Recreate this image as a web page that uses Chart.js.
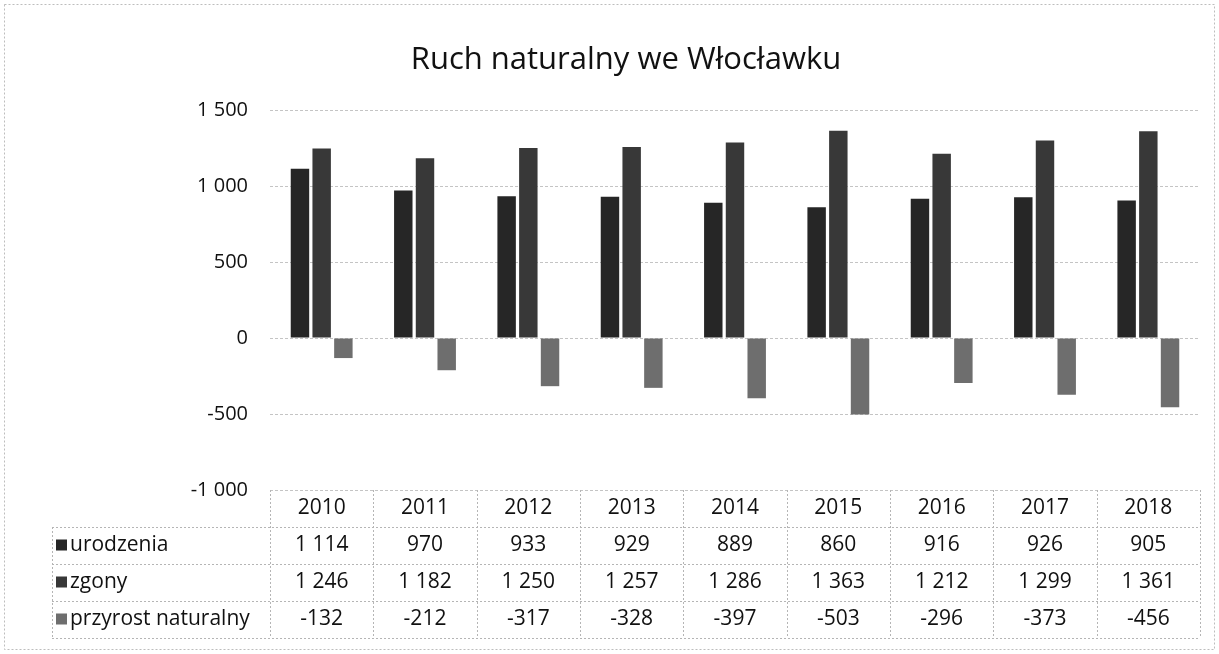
<!DOCTYPE html>
<html>
<head>
<meta charset="utf-8">
<script src="https://cdn.jsdelivr.net/npm/chart.js@4/dist/chart.umd.min.js"></script>
<style>
  html, body { margin: 0; padding: 0; background: #fff; }
  #wrap { width: 1219px; height: 654px; }
</style>
</head>
<body>
<div id="wrap"><canvas id="chart" width="1219" height="654"></canvas></div>
<script>
// Data
const years = ['2010', '2011', '2012', '2013', '2014', '2015', '2016', '2017', '2018'];
const urodzenia = [1114, 970, 933, 929, 889, 860, 916, 926, 905];
const zgony = [1246, 1182, 1250, 1257, 1286, 1363, 1212, 1299, 1361];
const przyrost = [-132, -212, -317, -328, -397, -503, -296, -373, -456];
const seriesNames = ['urodzenia', 'zgony', 'przyrost naturalny'];
const seriesColors = ['#262626', '#383838', '#6e6e6e'];
const yTicks = [-1000, -500, 0, 500, 1000, 1500];

const FONT = '"Open Sans", "Noto Sans", sans-serif';

function fmt(v) {
    const s = Math.abs(v).toString();
    const out = s.length > 3 ? s.slice(0, s.length - 3) + ' ' + s.slice(-3) : s;
    return (v < 0 ? '-' : '') + out;
}

// draws title, outer frame and the data table under the plot
const extrasPlugin = {
    id: 'extras',
    afterDraw(chart) {
        const ctx = chart.ctx;
        const area = chart.chartArea;
        const x = chart.scales.x;
        const W = chart.width, H = chart.height;
        ctx.save();

        // outer frame
        ctx.strokeStyle = '#bdbdbd';
        ctx.lineWidth = 1;
        ctx.setLineDash([2, 2]);
        ctx.strokeRect(4.5, 4.5, W - 9, H - 9);

        // title
        ctx.setLineDash([]);
        ctx.fillStyle = '#111';
        ctx.font = '31px ' + FONT;
        ctx.textAlign = 'center';
        ctx.textBaseline = 'middle';
        ctx.fillText('Ruch naturalny we Włocławku', 626, 60);

        // data table
        const colW = (area.right - area.left) / years.length;
        const top = area.bottom;
        const rowH = 37;
        const legLeft = 52;
        ctx.strokeStyle = '#b5b5b5';
        ctx.setLineDash([2, 2]);
        ctx.beginPath();
        // vertical lines
        for (let i = 0; i <= years.length; i++) {
            const lx = Math.round(area.left + i * colW) + 0.5;
            ctx.moveTo(lx, top);
            ctx.lineTo(lx, top + rowH * 4);
        }
        ctx.moveTo(legLeft + 0.5, top + rowH);
        ctx.lineTo(legLeft + 0.5, top + rowH * 4);
        // horizontal lines
        for (let r = 1; r <= 4; r++) {
            const ly = Math.round(top + r * rowH) + 0.5;
            ctx.moveTo(legLeft, ly);
            ctx.lineTo(area.right, ly);
        }
        ctx.stroke();
        ctx.setLineDash([]);

        ctx.font = '21px ' + FONT;
        ctx.fillStyle = '#111';
        ctx.textAlign = 'center';
        years.forEach((y, i) => {
            ctx.fillText(y, x.getPixelForValue(i), top + rowH / 2);
        });
        const rows = [urodzenia, zgony, przyrost];
        rows.forEach((vals, r) => {
            const cy = top + rowH * (r + 1) + rowH / 2;
            ctx.fillStyle = seriesColors[r];
            ctx.fillRect(legLeft + 4, cy - 6, 11, 11);
            ctx.fillStyle = '#111';
            ctx.textAlign = 'left';
            ctx.fillText(seriesNames[r], legLeft + 18, cy);
            ctx.textAlign = 'center';
            vals.forEach((v, i) => {
                ctx.fillText(fmt(v), x.getPixelForValue(i), cy);
            });
        });
        ctx.restore();
    }
};

new Chart(document.getElementById('chart'), {
    type: 'bar',
    data: {
        labels: years,
        datasets: [
            { label: seriesNames[0], data: urodzenia, backgroundColor: seriesColors[0] },
            { label: seriesNames[1], data: zgony, backgroundColor: seriesColors[1] },
            { label: seriesNames[2], data: przyrost, backgroundColor: seriesColors[2] }
        ]
    },
    options: {
        responsive: false,
        animation: false,
        layout: { padding: { left: 0, right: 19, top: 110, bottom: 164 } },
        datasets: { bar: { categoryPercentage: 0.63, barPercentage: 0.85 } },
        plugins: {
            legend: { display: false },
            title: { display: false },
            tooltip: { enabled: false }
        },
        scales: {
            x: { display: false },
            y: {
                min: -1000,
                max: 1500,
                afterFit(scale) { scale.width = 270; },
                afterBuildTicks(scale) { scale.ticks = yTicks.map(v => ({ value: v })); },
                border: { display: false, dash: [3, 2] },
                grid: { color: '#c4c4c4', drawTicks: false },
                ticks: {
                    padding: 22,
                    color: '#111',
                    font: { family: FONT, size: 20 },
                    callback: v => fmt(v)
                }
            }
        }
    },
    plugins: [extrasPlugin]
});
</script>
</body>
</html>
